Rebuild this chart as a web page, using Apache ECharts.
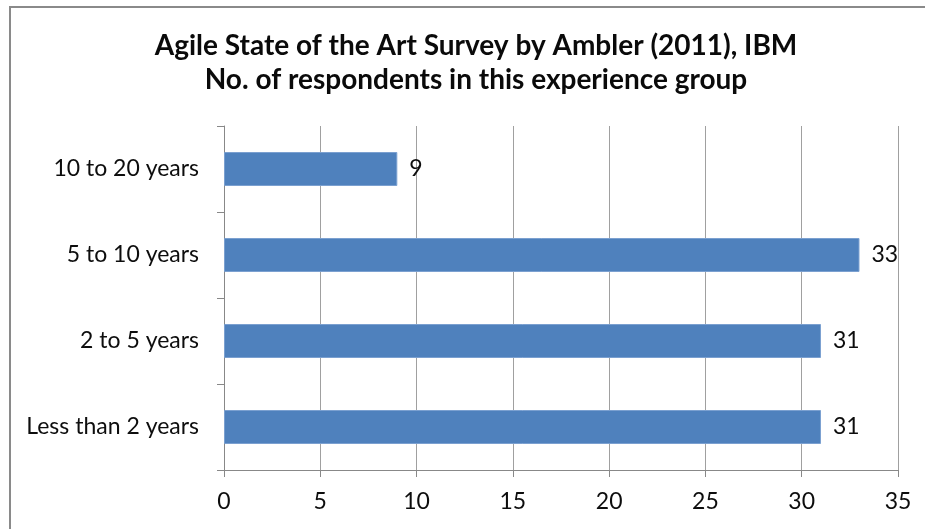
<!DOCTYPE html>
<html>
<head>
<meta charset="utf-8">
<script src="https://cdn.jsdelivr.net/npm/echarts@6/dist/echarts.min.js"></script>
<style>
  html, body { margin: 0; padding: 0; background: #fff; }
  #chart { width: 925px; height: 529px; }
</style>
</head>
<body>
<div id="chart"></div>
<script>
// Experience groups, listed bottom to top as the category axis draws them
const categories = ['Less than 2 years', '2 to 5 years', '5 to 10 years', '10 to 20 years'];
// Number of respondents in each group
const respondents = [31, 31, 33, 9];
// Value axis ticks
const xTicks = [0, 5, 10, 15, 20, 25, 30, 35];

const FONT = 'Lato, "Open Sans", sans-serif';
const TEXT = '#0d0d0d';
const AXIS = '#888';

const chart = echarts.init(document.getElementById('chart'), null, { renderer: 'canvas' });

chart.setOption({
  backgroundColor: '#fff',
  animation: false,
  title: {
    text: 'Agile State of the Art Survey by Ambler (2011), IBM\nNo. of respondents in this experience group',
    left: 476,
    top: 29,
    padding: 0,
    textAlign: 'center',
    textStyle: {
      fontFamily: FONT,
      fontWeight: 'bold',
      fontSize: 28,
      lineHeight: 34,
      color: '#0a0a0a'
    }
  },
  graphic: [{
    type: 'rect',
    shape: { x: 10, y: 7, width: 1000, height: 1000 },
    style: { fill: 'none', stroke: '#8a8a8a', lineWidth: 2 },
    silent: true
  }],
  grid: { left: 224, right: 27, top: 126, bottom: 59, containLabel: false },
  xAxis: {
    type: 'value',
    min: xTicks[0],
    max: xTicks[xTicks.length - 1],
    interval: xTicks[1] - xTicks[0],
    axisLine: { show: true, lineStyle: { color: AXIS, width: 1 } },
    axisTick: { show: true, length: 7, lineStyle: { color: AXIS } },
    splitLine: { show: true, lineStyle: { color: '#a0a0a0', width: 1 } },
    axisLabel: { margin: 20, color: TEXT, fontFamily: FONT, fontSize: 23 }
  },
  yAxis: {
    type: 'category',
    data: categories,
    axisLine: { show: true, lineStyle: { color: AXIS, width: 1 } },
    axisTick: { show: true, length: 7, lineStyle: { color: AXIS } },
    splitLine: { show: false },
    axisLabel: { margin: 25, padding: [4, 0, 0, 0], color: TEXT, fontFamily: FONT, fontSize: 23 }
  },
  series: [{
    type: 'bar',
    data: respondents,
    barWidth: 34,
    itemStyle: { color: '#4f81bd', borderColor: '#7ba0d0', borderWidth: 1 },
    label: {
      show: true,
      position: 'right',
      distance: 12,
      padding: [4, 0, 0, 0],
      color: TEXT,
      fontFamily: FONT,
      fontSize: 23
    }
  }]
});
</script>
</body>
</html>
